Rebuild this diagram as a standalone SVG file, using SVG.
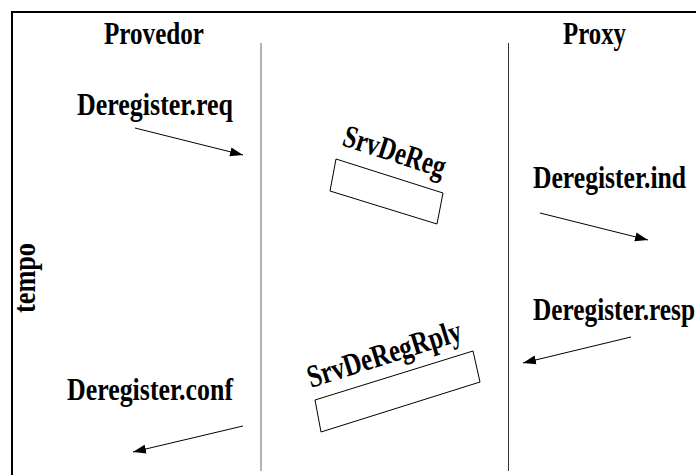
<svg xmlns="http://www.w3.org/2000/svg" width="696" height="475" viewBox="0 0 696 475">
  <style>
    .lbl { font-family: "Liberation Serif", "Times New Roman", serif; font-weight: bold; font-size: 32px; fill: #000; }
    .life { stroke-width: 1; fill: none; }
    .box { fill: #fff; stroke: #000; stroke-width: 1; }
    .msg { stroke: #000; stroke-width: 1; fill: none; marker-end: url(#ah); }
  </style>
  <defs>
    <marker id="ah" markerUnits="userSpaceOnUse" markerWidth="14" markerHeight="10" refX="13" refY="5" orient="auto">
      <path d="M0,0.5 L13,5 L0,9.5 Z" fill="#000"/>
    </marker>
  </defs>
  <rect width="696" height="475" fill="#fff"/>
  <path id="frame" d="M12,475 V12 H696" fill="none" stroke="#000" stroke-width="2"/>
  <text class="lbl" transform="translate(35,313) rotate(-90)" font-size="19" textLength="70" lengthAdjust="spacingAndGlyphs">tempo</text>

  <g id="provedor">
    <text class="lbl" x="104" y="44" font-size="30" textLength="100" lengthAdjust="spacingAndGlyphs">Provedor</text>
    <line class="life" x1="261" y1="43" x2="261" y2="471" stroke="#666"/>
  </g>
  <g id="proxy">
    <text class="lbl" x="563" y="44" font-size="30" textLength="63" lengthAdjust="spacingAndGlyphs">Proxy</text>
    <line class="life" x1="508.5" y1="43" x2="508.5" y2="471" stroke="#333"/>
  </g>

  <g id="srvdereg">
    <polygon class="box" points="336,159 443,193 437,224 330,191"/>
    <text class="lbl" transform="translate(341,145) rotate(18)" font-size="31" textLength="106" lengthAdjust="spacingAndGlyphs">SrvDeReg</text>
  </g>
  <g id="srvderegrply">
    <polygon class="box" points="315,400 473,351 480,382 321,432"/>
    <text class="lbl" transform="translate(311,388) rotate(-17.5)" font-size="31" textLength="160" lengthAdjust="spacingAndGlyphs">SrvDeRegRply</text>
  </g>

  <g id="deregister-req">
    <text class="lbl" x="77" y="115" textLength="156" lengthAdjust="spacingAndGlyphs">Deregister.req</text>
  </g>
  <g id="deregister-ind">
    <text class="lbl" x="533" y="188" textLength="153" lengthAdjust="spacingAndGlyphs">Deregister.ind</text>
  </g>
  <g id="deregister-resp">
    <text class="lbl" x="533" y="320" textLength="162" lengthAdjust="spacingAndGlyphs">Deregister.resp</text>
  </g>
  <g id="deregister-conf">
    <text class="lbl" x="67" y="400" textLength="166" lengthAdjust="spacingAndGlyphs">Deregister.conf</text>
  </g>

  <g id="connectors">
    <line class="msg" x1="135" y1="128" x2="243" y2="155"/>
    <line class="msg" x1="540" y1="213" x2="648" y2="240"/>
    <line class="msg" x1="631" y1="337" x2="523" y2="363"/>
    <line class="msg" x1="243" y1="426" x2="133" y2="452"/>
  </g>
</svg>
